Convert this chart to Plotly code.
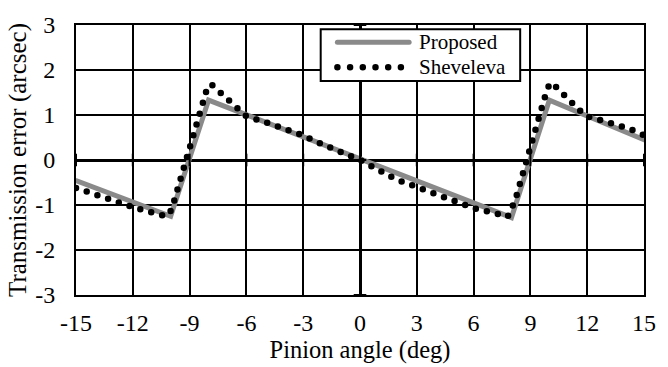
import plotly.graph_objects as go

# Proposed model (piecewise)
prop_x = [-15, -10, -8, 8, 10, 15]
prop_y = [-0.46, -1.25, 1.33, -1.28, 1.33, 0.45]

# Sheveleva
shev_x = [-15, -13.7, -12, -10.8, -10.2, -9.95, -9.6, -9.1, -8.6, -8.3, -8.05, -7.85,
          -7.4, -6.5, -6.0, -5.0, -3.15, -2.0, 0, 1.9, 4.2, 6.0, 7.2, 7.8,
          8.2, 8.7, 9.2, 9.7, 9.9, 10.12, 10.6, 11.4, 11.9, 13.0, 14.2, 15]
shev_y = [-0.62, -0.82, -1.05, -1.19, -1.25, -1.1, -0.6, 0.14, 0.89, 1.37, 1.63, 1.68,
          1.51, 1.14, 0.97, 0.84, 0.57, 0.35, 0.0, -0.43, -0.80, -1.07, -1.19, -1.26,
          -0.89, -0.13, 0.62, 1.35, 1.6, 1.72, 1.53, 1.17, 0.98, 0.85, 0.70, 0.55]

series_names = ["Proposed", "Sheveleva"]
x_ticks = [-15, -12, -9, -6, -3, 0, 3, 6, 9, 12, 15]
x_tick_labels = ["-15", "-12", "-9", "-6", "-3", "0", "3", "6", "9", "12", "15"]
y_ticks = [-3, -2, -1, 0, 1, 2, 3]
y_tick_labels = ["-3", "-2", "-1", "0", "1", "2", "3"]

FONT = "Liberation Serif"
GRAY = "#8a8a8a"
DOT_DASH = "0px,11.3px"

fig = go.Figure()
fig.add_trace(go.Scatter(x=prop_x, y=prop_y, mode="lines", name=series_names[0],
                         line=dict(color=GRAY, width=5), showlegend=False))
fig.add_trace(go.Scatter(x=shev_x, y=shev_y, mode="lines", name=series_names[1],
                         line=dict(color="black", width=6.5, dash=DOT_DASH), showlegend=False))
# small cross ticks along the zero axes
fig.add_trace(go.Scatter(x=x_ticks, y=[0] * len(x_ticks), mode="markers", showlegend=False,
                         hoverinfo="skip",
                         marker=dict(symbol="line-ns", size=9, line=dict(color="black", width=2))))
fig.add_trace(go.Scatter(x=[0] * len(y_ticks), y=y_ticks, mode="markers", showlegend=False,
                         hoverinfo="skip",
                         marker=dict(symbol="line-ew", size=9, line=dict(color="black", width=2))))

grid = dict(showgrid=True, gridcolor="black", gridwidth=1.5,
            zeroline=True, zerolinecolor="black", zerolinewidth=3,
            showline=True, linecolor="black", linewidth=2, mirror=True,
            ticks="", tickfont=dict(family=FONT, size=24, color="black"))

fig.update_layout(
    width=668, height=367,
    margin=dict(l=76, r=14, t=23, b=63, pad=0),
    paper_bgcolor="white", plot_bgcolor="white",
    font=dict(family=FONT, color="black"),
    xaxis=dict(range=[-15, 15], tickvals=x_ticks, ticktext=x_tick_labels, ticklabelstandoff=5,
               title=dict(text="Pinion angle (deg)", font=dict(family=FONT, size=24.5), standoff=2),
               **grid),
    yaxis=dict(range=[-3, 3], tickvals=y_ticks, ticktext=y_tick_labels, ticklabelstandoff=14,
               title=dict(text="Transmission error (arcsec)", font=dict(family=FONT, size=25), standoff=1),
               **grid),
    showlegend=False,
)

# Legend drawn manually to match the reference box proportions
lx0, lx1, ly0, ly1 = 0.4308, 0.782, 0.7927, 0.9847
sx0, sx1 = 0.4602, 0.5865
row_y = [0.936, 0.8435]
fig.add_shape(type="rect", xref="paper", yref="paper", x0=lx0, x1=lx1, y0=ly0, y1=ly1,
              fillcolor="white", line=dict(color="black", width=2), layer="above")
fig.add_shape(type="line", xref="paper", yref="paper", x0=sx0, x1=sx1, y0=row_y[0], y1=row_y[0],
              line=dict(color=GRAY, width=5), layer="above")
fig.add_shape(type="line", xref="paper", yref="paper", x0=sx0, x1=0.572, y0=row_y[1], y1=row_y[1],
              line=dict(color="black", width=6.5, dash="0px,12.7px"), layer="above")
for name, ry in zip(series_names, row_y):
    fig.add_annotation(text=name, xref="paper", yref="paper", x=0.6003, y=ry,
                       xanchor="left", yanchor="middle", showarrow=False,
                       font=dict(family=FONT, size=21, color="black"))

post = """
function rc(){ document.querySelectorAll('path.js-line, .shapelayer path').forEach(function(p){ p.style.strokeLinecap='round'; }); }
rc();
var gd = document.querySelector('.plotly-graph-div');
if (gd && gd.on) { gd.on('plotly_afterplot', rc); }
"""
fig.write_html("out.html", post_script=post)
